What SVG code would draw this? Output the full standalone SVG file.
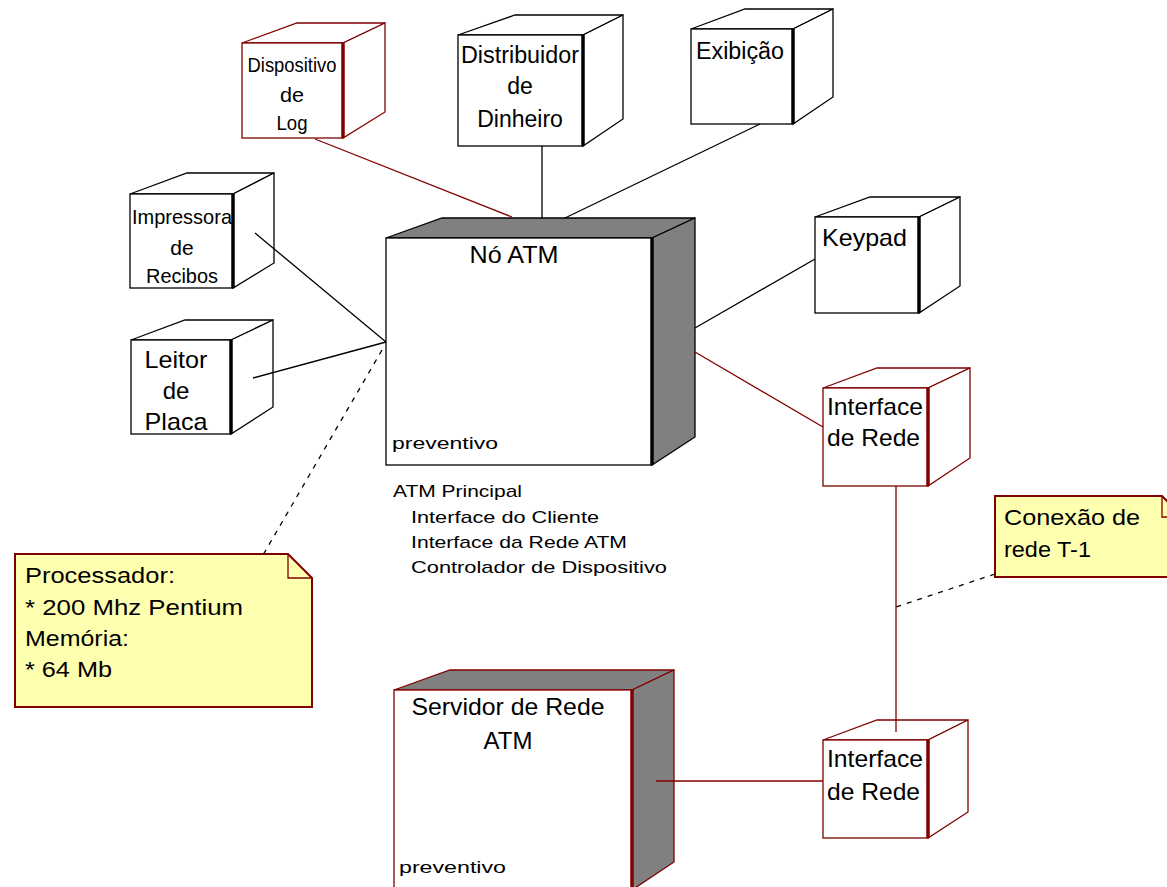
<svg xmlns="http://www.w3.org/2000/svg" width="1167" height="887" viewBox="0 0 1167 887">
<style>
.k { stroke: #000; stroke-width: 1.3; fill: #fff; }
.r { stroke: #800000; stroke-width: 1.3; fill: #fff; }
.kg { stroke: #000; stroke-width: 1.3; fill: #808080; }
.rg { stroke: #800000; stroke-width: 1.3; fill: #808080; }
.ke { stroke: #000; stroke-width: 3.5; }
.re { stroke: #800000; stroke-width: 3.5; }
.t { font-family: "Liberation Sans", Arial, sans-serif; fill: #000; }
.c { text-anchor: middle; }
.lk { stroke: #000; stroke-width: 1.3; fill: none; }
.lr { stroke: #800000; stroke-width: 1.3; fill: none; }
.dash { stroke: #000; stroke-width: 1.3; fill: none; stroke-dasharray: 5 6; }
.note { fill: #ffffb0; stroke: #800000; stroke-width: 2; }
</style>
<rect width="1167" height="887" fill="#fff"/>

<g id="dispositivo-log">
<polygon class="r" points="242,43 297,23 385,23 343,43"/>
<polygon class="r" points="343,43 385,23 385,112 343,138"/>
<rect class="r" x="242" y="43" width="101" height="95"/>
<line class="re" x1="343" y1="43" x2="343" y2="138"/>
<text class="t c" x="292" y="72" font-size="21" textLength="89" lengthAdjust="spacingAndGlyphs">Dispositivo</text>
<text class="t c" x="292" y="102" font-size="21" textLength="24" lengthAdjust="spacingAndGlyphs">de</text>
<text class="t c" x="292" y="130" font-size="21" textLength="31" lengthAdjust="spacingAndGlyphs">Log</text>
</g>

<g id="distribuidor">
<polygon class="k" points="458,35 515,15 623,15 583,35"/>
<polygon class="k" points="583,35 623,15 623,119 583,146"/>
<rect class="k" x="458" y="35" width="125" height="111"/>
<line class="ke" x1="583" y1="35" x2="583" y2="146"/>
<text class="t c" x="520" y="63" font-size="23" textLength="118" lengthAdjust="spacingAndGlyphs">Distribuidor</text>
<text class="t c" x="520" y="94" font-size="23">de</text>
<text class="t c" x="520" y="127" font-size="23">Dinheiro</text>
</g>

<g id="exibicao">
<polygon class="k" points="691,29 745,9 833,9 793,29"/>
<polygon class="k" points="793,29 833,9 833,97 793,124"/>
<rect class="k" x="691" y="29" width="102" height="95"/>
<line class="ke" x1="793" y1="29" x2="793" y2="124"/>
<text class="t" x="696" y="59" font-size="23" textLength="88" lengthAdjust="spacingAndGlyphs">Exibição</text>
</g>

<g id="impressora">
<polygon class="k" points="130,194 187,173 274,173 233,194"/>
<polygon class="k" points="233,194 274,173 274,263 233,288"/>
<rect class="k" x="130" y="194" width="103" height="94"/>
<line class="ke" x1="233" y1="194" x2="233" y2="288"/>
<text class="t c" x="182" y="224" font-size="21" textLength="100" lengthAdjust="spacingAndGlyphs">Impressora</text>
<text class="t c" x="182" y="255" font-size="21">de</text>
<text class="t c" x="182" y="283" font-size="21" textLength="72" lengthAdjust="spacingAndGlyphs">Recibos</text>
</g>

<g id="leitor">
<polygon class="k" points="131,340 185,320 273,320 231,340"/>
<polygon class="k" points="231,340 273,320 273,407 231,434"/>
<rect class="k" x="131" y="340" width="100" height="94"/>
<line class="ke" x1="231" y1="340" x2="231" y2="434"/>
<text class="t c" x="176" y="368" font-size="24" textLength="63" lengthAdjust="spacingAndGlyphs">Leitor</text>
<text class="t c" x="176" y="399" font-size="24">de</text>
<text class="t c" x="176" y="430" font-size="24" textLength="63" lengthAdjust="spacingAndGlyphs">Placa</text>
</g>

<g id="no-atm">
<polygon class="kg" points="386,238 442,218 695,218 652,238"/>
<polygon class="kg" points="652,238 695,218 695,437 652,465"/>
<rect class="k" x="386" y="238" width="266" height="227"/>
<line class="ke" x1="652" y1="238" x2="652" y2="465"/>
<text class="t c" x="514" y="263" font-size="24" textLength="89" lengthAdjust="spacingAndGlyphs">Nó ATM</text>
<text class="t" x="392" y="449" font-size="17" textLength="106" lengthAdjust="spacingAndGlyphs">preventivo</text>
</g>

<g id="no-atm-componentes">
<text class="t" x="393" y="497" font-size="17" textLength="129" lengthAdjust="spacingAndGlyphs">ATM Principal</text>
<text class="t" x="411" y="523" font-size="17" textLength="188" lengthAdjust="spacingAndGlyphs">Interface do Cliente</text>
<text class="t" x="411" y="548" font-size="17" textLength="216" lengthAdjust="spacingAndGlyphs">Interface da Rede ATM</text>
<text class="t" x="411" y="573" font-size="17" textLength="256" lengthAdjust="spacingAndGlyphs">Controlador de Dispositivo</text>
</g>

<g id="keypad">
<polygon class="k" points="815,217 870,197 960,197 919,217"/>
<polygon class="k" points="919,217 960,197 960,286 919,313"/>
<rect class="k" x="815" y="217" width="104" height="96"/>
<line class="ke" x1="919" y1="217" x2="919" y2="313"/>
<text class="t" x="822" y="246" font-size="24" textLength="85" lengthAdjust="spacingAndGlyphs">Keypad</text>
</g>

<g id="interface-rede-1">
<polygon class="r" points="823,388 877,368 970,368 928,388"/>
<polygon class="r" points="928,388 970,368 970,458 928,486"/>
<rect class="r" x="823" y="388" width="105" height="98"/>
<line class="re" x1="928" y1="388" x2="928" y2="486"/>
<text class="t" x="827" y="415" font-size="24" textLength="96" lengthAdjust="spacingAndGlyphs">Interface</text>
<text class="t" x="827" y="446" font-size="24" textLength="93" lengthAdjust="spacingAndGlyphs">de Rede</text>
</g>

<g id="interface-rede-2">
<polygon class="r" points="823,740 877,720 968,720 928,740"/>
<polygon class="r" points="928,740 968,720 968,812 928,838"/>
<rect class="r" x="823" y="740" width="105" height="98"/>
<line class="re" x1="928" y1="740" x2="928" y2="838"/>
<text class="t" x="827" y="767" font-size="24" textLength="96" lengthAdjust="spacingAndGlyphs">Interface</text>
<text class="t" x="827" y="800" font-size="24" textLength="93" lengthAdjust="spacingAndGlyphs">de Rede</text>
</g>

<g id="servidor">
<polygon class="rg" points="394,690 450,670 674,670 632,690"/>
<polygon class="rg" points="632,690 674,670 674,862 632,890"/>
<rect class="r" x="394" y="690" width="238" height="210"/>
<line class="re" x1="632" y1="690" x2="632" y2="890"/>
<text class="t c" x="508" y="715" font-size="24" textLength="193" lengthAdjust="spacingAndGlyphs">Servidor de Rede</text>
<text class="t c" x="508" y="749" font-size="24">ATM</text>
<text class="t" x="399" y="873" font-size="17" textLength="107" lengthAdjust="spacingAndGlyphs">preventivo</text>
</g>

<g id="nota-processador">
<polygon class="note" points="15,554 288,554 312,578 312,707 15,707"/>
<polyline class="lr" points="288,554 288,578 312,578" stroke-width="2"/>
<text class="t" x="25" y="583" font-size="22" textLength="150" lengthAdjust="spacingAndGlyphs">Processador:</text>
<text class="t" x="25" y="615" font-size="22" textLength="218" lengthAdjust="spacingAndGlyphs">* 200 Mhz Pentium</text>
<text class="t" x="25" y="646" font-size="22" textLength="104" lengthAdjust="spacingAndGlyphs">Memória:</text>
<text class="t" x="25" y="677" font-size="22" textLength="87" lengthAdjust="spacingAndGlyphs">* 64 Mb</text>
</g>

<g id="nota-conexao">
<polygon class="note" points="995,496 1162,496 1185,519 1185,577 995,577"/>
<polyline class="lr" points="1162,496 1162,517 1170,517" stroke-width="2"/>
<text class="t" x="1004" y="525" font-size="22" textLength="136" lengthAdjust="spacingAndGlyphs">Conexão de</text>
<text class="t" x="1004" y="557" font-size="22" textLength="87" lengthAdjust="spacingAndGlyphs">rede T-1</text>
</g>

<g id="conectores">
<line class="lr" x1="315" y1="139" x2="512" y2="217"/>
<line class="lk" x1="542" y1="146" x2="542" y2="218"/>
<line class="lk" x1="760" y1="124" x2="565" y2="218"/>
<line class="lk" x1="255" y1="233" x2="386" y2="342"/>
<line class="lk" x1="253" y1="378" x2="386" y2="342"/>
<line class="dash" x1="382" y1="350" x2="263" y2="555"/>
<line class="lk" x1="695" y1="328" x2="815" y2="259"/>
<line class="lr" x1="695" y1="352" x2="823" y2="427"/>
<line class="lr" x1="896" y1="486" x2="896" y2="732"/>
<line class="dash" x1="995" y1="574" x2="896" y2="607"/>
<line class="lr" x1="656" y1="781" x2="823" y2="781"/>
</g>
</svg>
